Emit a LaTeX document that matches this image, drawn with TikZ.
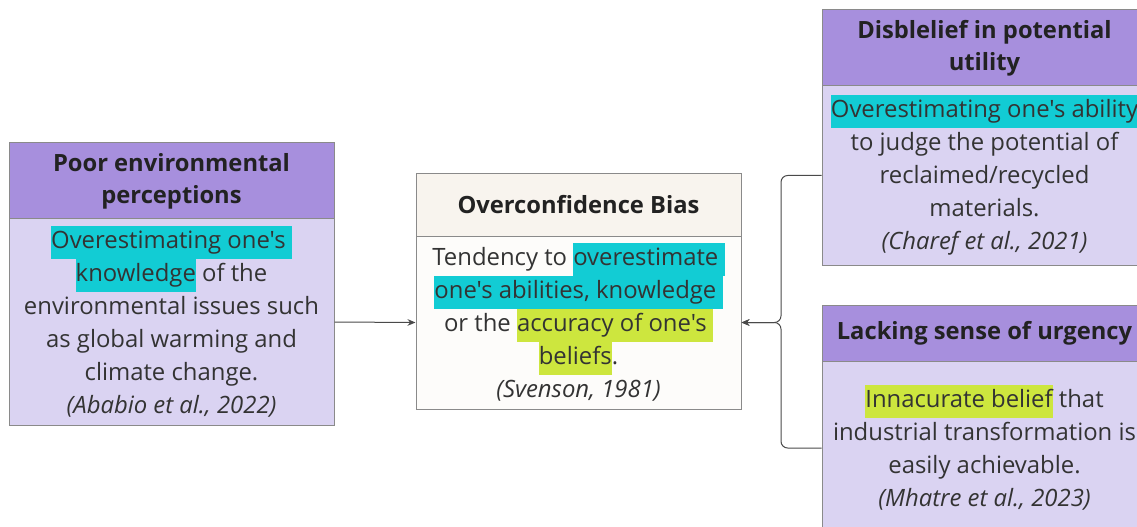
\documentclass[tikz,border=0pt]{standalone}
\usepackage{fontspec}
\setmainfont{Open Sans}[Ligatures=TeXOff]
\usetikzlibrary{arrows.meta}

\definecolor{hdrpurple}{HTML}{A78FDD}
\definecolor{bodylav}{HTML}{DAD3F2}
\definecolor{hdrcream}{HTML}{F8F4EE}
\definecolor{bodycream}{HTML}{FDFCFA}
\definecolor{edgegray}{HTML}{8A8A8A}
\definecolor{hlcyan}{HTML}{12CCD4}
\definecolor{hllime}{HTML}{CDE63E}
\definecolor{inktext}{HTML}{333333}
\definecolor{inkhead}{HTML}{222222}
\definecolor{wire}{HTML}{4A4A4A}

% highlighted run of text, filling the whole line height
\newcommand{\hlrun}[2]{{\setlength{\fboxsep}{0pt}\colorbox{#1}{\rule[-8pt]{0pt}{24.75pt}#2}}}

\tikzset{
  boxpart/.style={draw=edgegray, line width=0.75pt, minimum width=243.75pt,
    inner sep=0pt, align=center, anchor=center},
  headtext/.style={boxpart, font=\fontsize{17.8pt}{24pt}\selectfont\bfseries, text=inkhead},
  bodytext/.style={boxpart, font=\fontsize{17.9pt}{24.75pt}\selectfont, text=inktext},
  conn/.style={draw=wire, line width=0.75pt, rounded corners=5pt},
  tip/.style={-{Stealth[length=6pt,width=5pt]}}
}

\begin{document}
\begin{tikzpicture}[x=0.75pt, y=-0.75pt]
  \clip (0,0) rectangle (1137,527);
  \fill[white] (0,0) rectangle (1137,527);

  % left box
  \node[headtext, fill=hdrpurple, minimum height=57pt] (lh) at (171.5,181)
    {Poor environmental\\perceptions};
  \node[bodytext, fill=bodylav, minimum height=154.5pt] (lb) at (171.5,322)
    {\hlrun{hlcyan}{Overestimating one's }\\
     \hlrun{hlcyan}{knowledge} of the\\
     environmental issues such\\
     as global warming and\\
     climate change.\\
     \textit{(Ababio et al., 2022)}};

  % centre box
  \node[headtext, fill=hdrcream, minimum height=46.5pt] (ch) at (578.5,205)
    {Overconfidence Bias};
  \node[bodytext, fill=bodycream, minimum height=129.75pt] (cb) at (578.5,322.5)
    {Tendency to \hlrun{hlcyan}{overestimate }\\
     \hlrun{hlcyan}{one's abilities, knowledge }\\
     or the \hlrun{hllime}{accuracy of one's }\\
     \hlrun{hllime}{beliefs}.\\
     \textit{(Svenson, 1981)}};

  % top right box
  \node[headtext, fill=hdrpurple, minimum height=57pt] (th) at (984.5,48)
    {Disblelief in potential\\utility};
  \node[bodytext, fill=bodylav, minimum height=134.25pt] (tb) at (984.5,175.5)
    {\hlrun{hlcyan}{Overestimating one's ability}\\
     to judge the potential of\\
     reclaimed/recycled\\
     materials.\\
     \textit{(Charef et al., 2021)}};

  % bottom right box
  \node[headtext, fill=hdrpurple, minimum height=42pt] (bh) at (984.5,333)
    {Lacking sense of urgency};
  \node[bodytext, fill=bodylav, minimum height=130.5pt] (bb) at (984.5,448)
    {\hlrun{hllime}{Innacurate belief} that\\
     industrial transformation is\\
     easily achievable.\\
     \textit{(Mhatre et al., 2023)}};

  % connectors
  \coordinate (join) at (781,322.5);
  \draw[conn, tip] (lb.east) -- (cb.west);
  \draw[conn, tip] (tb.west) -| (join) -- (cb.east);
  \draw[conn, tip] (bb.west) -| (join) -- (cb.east);
\end{tikzpicture}
\end{document}
